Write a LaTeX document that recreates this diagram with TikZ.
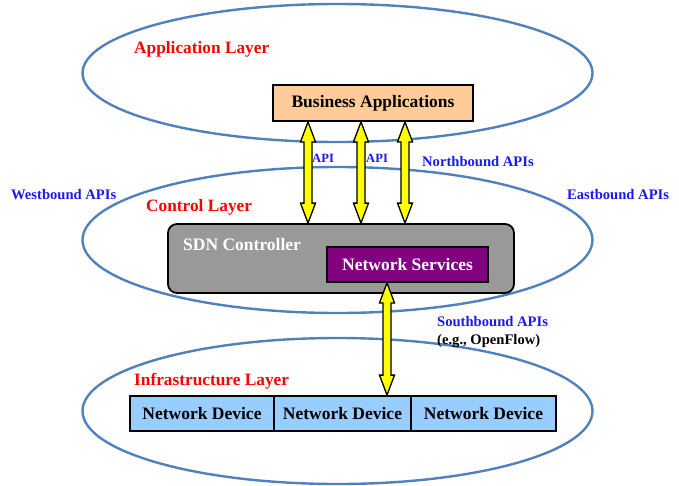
\documentclass[tikz,border=0pt]{standalone}
\usepackage{fontspec}
\setmainfont{Liberation Serif}
\usetikzlibrary{calc}
\definecolor{ellblue}{HTML}{4F81BD}
\definecolor{lblblue}{HTML}{1A1AF0}
\definecolor{lblred}{HTML}{FF0000}
\definecolor{bizfill}{HTML}{FFCC99}
\definecolor{ctrlfill}{HTML}{999999}
\definecolor{nsfill}{HTML}{800080}
\definecolor{devfill}{HTML}{99CCFF}
\definecolor{arrfill}{HTML}{FFFF00}
\tikzset{
  layer/.style={draw=ellblue, line width=2.4pt},
  box/.style={draw=black, line width=1.8pt, inner sep=0pt, font=\fontsize{17.5}{20}\selectfont\bfseries},
  layerlbl/.style={anchor=base west, inner sep=0pt, text=lblred, font=\fontsize{17.3}{20}\selectfont\bfseries},
  apilbl/.style={anchor=base west, inner sep=0pt, text=lblblue, font=\fontsize{14.6}{17}\selectfont\bfseries},
  smallapi/.style={anchor=base west, inner sep=0pt, text=lblblue, font=\fontsize{12.6}{15}\selectfont\bfseries},
  yarr/.style={draw=black, fill=arrfill, line width=1.3pt, line join=miter},
}
\newcommand\yarrow[3]{%
  \draw[yarr] let \p1=(#2), \p2=(#3) in
    (#1pt,\y1) -- ++(-7.5pt,-20pt) -- ++(3.5pt,0pt) -- ({#1pt-4pt},{\y2+20pt})
    -- ++(-3.5pt,0pt) -- (#1pt,\y2) -- ++(7.5pt,20pt) -- ++(-3.5pt,0pt)
    -- ({#1pt+4pt},{\y1-20pt}) -- ++(3.5pt,0pt) -- cycle;}
\begin{document}
\begin{tikzpicture}[x=1pt,y=-1pt]
\useasboundingbox (0,0) rectangle (679,485);
% layers
\draw[layer] (337.5,73) ellipse [x radius=255, y radius=69];
\draw[layer] (337.5,240) ellipse [x radius=255, y radius=73];
\draw[layer] (337.5,411) ellipse [x radius=255, y radius=73];
% layer labels
\node[layerlbl] (lapp) at (134,53) {Application Layer};
\node[layerlbl] (lctl) at (146,211) {Control Layer};
\node[layerlbl] (linf) at (134,385) {Infrastructure Layer};
% boxes
\node[box, fill=bizfill, minimum width=200, minimum height=36] (ba) at (373,103) {Business Applications};
\node[box, fill=ctrlfill, rounded corners=9pt, minimum width=346, minimum height=69] (sdn) at (341,258.5) {};
\node[anchor=base west, inner sep=0pt, text=white, font=\fontsize{17.5}{20}\selectfont\bfseries] (sdnl) at (183,250) {SDN Controller};
\node[box, fill=nsfill, text=white, minimum width=161, minimum height=35] (ns) at (407.5,264.5) {Network Services};
\node[box, fill=devfill, minimum width=144, minimum height=35] (d1) at (202,413.5) {Network Device};
\node[box, fill=devfill, minimum width=137, minimum height=35] (d2) at (342.5,413.5) {Network Device};
\node[box, fill=devfill, minimum width=145, minimum height=35] (d3) at (483.5,413.5) {Network Device};
% arrows
\yarrow{308}{ba.south}{sdn.north}
\yarrow{361}{ba.south}{sdn.north}
\yarrow{405}{ba.south}{sdn.north}
\yarrow{387}{ns.south}{d2.north}
% api labels
\node[smallapi] (api1) at (312,162) {API};
\node[smallapi] (api2) at (366,162) {API};
\node[apilbl] (nb) at (422,166) {Northbound APIs};
\node[apilbl] (wb) at (11,199) {Westbound APIs};
\node[apilbl] (eb) at (567,199) {Eastbound APIs};
\node[apilbl] (sb) at (437,326) {Southbound APIs};
\node[apilbl, text=black] (of) at (437,344) {(e.g., OpenFlow)};
\end{tikzpicture}
\end{document}
